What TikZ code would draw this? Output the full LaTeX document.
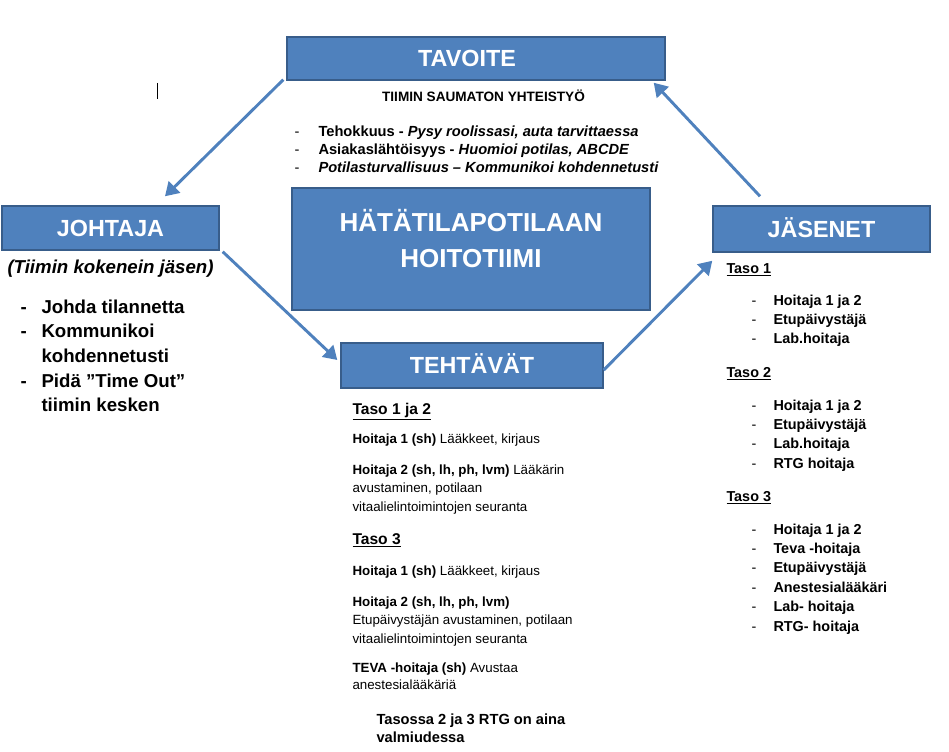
\documentclass[tikz,border=0pt]{standalone}
\usepackage{fontspec}
\setmainfont{Liberation Sans}
\usetikzlibrary{arrows.meta,calc}
\definecolor{boxblue}{RGB}{79,129,189}
\definecolor{boxedge}{RGB}{56,93,138}

\tikzset{every picture/.style={line width=0.75pt}}
\tikzset{
  blubox/.style={fill=boxblue, draw=boxedge, line width=1.1pt, text=white,
    font=\fontsize{17.5}{21}\selectfont\bfseries, text height=12.5pt, text depth=0pt},
  headtxt/.style={text=white, inner sep=0pt, font=\fontsize{17.5}{21}\selectfont\bfseries,
    text height=12.5pt, text depth=0pt},
  titletxt/.style={text=white, inner sep=0pt, font=\fontsize{19.5}{23}\selectfont\bfseries,
    text height=14pt, text depth=0pt},
  flowarrow/.style={draw=boxblue, line width=2.2pt, -{Triangle[length=10pt,width=12pt]}},
  txt/.style={anchor=base west, inner sep=0pt, align=left}
}

\begin{document}
\begin{tikzpicture}[x=0.75pt,y=0.75pt,yscale=-1,xscale=1]
	\useasboundingbox (0,0) rectangle (949,752);

	%Boxes
	\node[blubox, minimum width=283.5pt, minimum height=32.25pt] (tavoite) at (476,58.5) {};
	\node[headtxt] (tavoiteotsikko) at (467,58.5) {TAVOITE};
	\node[blubox, minimum width=162.75pt, minimum height=33pt] (johtaja) at (110.5,228) {JOHTAJA};
	\node[blubox, minimum width=268.5pt, minimum height=91.5pt] (hoitotiimi) at (471,249) {};
	\node[blubox, minimum width=196.5pt, minimum height=33.75pt] (tehtavat) at (472,365.5) {TEHTÄVÄT};
	\node[blubox, minimum width=162.75pt, minimum height=34.5pt] (jasenet) at (821.5,229) {JÄSENET};

	% Text Node
	\node[titletxt] (otsikko1) at (471,222) {HÄTÄTILAPOTILAAN};
	\node[titletxt] (otsikko2) at (471,258) {HOITOTIIMI};

	%Arrows
	\draw[flowarrow] ($(tavoite.south west)+(-3,-1)$) -- ($(johtaja.north)+(54.5,-9)$);
	\draw[flowarrow] ($(johtaja.south east)+(3,1)$) -- ($(tehtavat.west)+(-3,-5.5)$);
	\draw[flowarrow] ($(tehtavat.east)+(0,4.5)$) -- ($(jasenet.south west)+(0,8)$);
	\draw[flowarrow] ($(jasenet.north)+(-61.5,-9)$) -- ($(tavoite.south east)+(-12,2)$);

	%Stray mark
	\draw (157,83) -- (157,99);

	% Text Node: tavoite (multi-line nodes sit on their last baseline)
	\node[anchor=base, inner sep=0pt, font=\fontsize{10.2}{12}\selectfont\bfseries] (yhteistyo) at (483.5,102) {TIIMIN SAUMATON YHTEISTYÖ};
	\node[txt, font=\fontsize{11}{13.5}\selectfont] (tavviivat) at (294,173) {-\\-\\-};
	\node[txt, font=\fontsize{11}{13.5}\selectfont\bfseries] (tavlista) at (318,173)
	  {Tehokkuus - \textit{Pysy roolissasi, auta tarvittaessa}\\
	   Asiakaslähtöisyys - \textit{Huomioi potilas, ABCDE}\\
	   \textit{Potilasturvallisuus – Kommunikoi kohdennetusti}};

	% Text Node: johtaja
	\node[txt, font=\fontsize{14}{17}\selectfont\bfseries\itshape] (kokenein) at (7,273) {(Tiimin kokenein jäsen)};
	\node[txt, font=\fontsize{14}{18.5}\selectfont\bfseries] (johviivat) at (20,387) {-\\-\\ \\-};
	\node[txt, font=\fontsize{14}{18.5}\selectfont\bfseries] (johlista) at (41,411.7)
	  {Johda tilannetta\\Kommunikoi\\kohdennetusti\\Pidä ”Time Out”\\tiimin kesken};

	% Text Node: tehtavat
	\node[txt, font=\fontsize{11.7}{14}\selectfont\bfseries] (tehtaso12) at (352,414) {\underline{Taso 1 ja 2}};
	\node[txt, font=\fontsize{10}{13.9}\selectfont] (teh1) at (352,443) {\textbf{Hoitaja 1 (sh)} Lääkkeet, kirjaus};
	\node[txt, font=\fontsize{10}{13.9}\selectfont] (teh2) at (352,511.1)
	  {\textbf{Hoitaja 2 (sh, lh, ph, lvm)} Lääkärin\\avustaminen, potilaan\\vitaalielintoimintojen seuranta};
	\node[txt, font=\fontsize{11.7}{14}\selectfont\bfseries] (tehtaso3) at (352,544) {\underline{Taso 3}};
	\node[txt, font=\fontsize{10}{13.9}\selectfont] (teh3) at (352,575) {\textbf{Hoitaja 1 (sh)} Lääkkeet, kirjaus};
	\node[txt, font=\fontsize{10}{13.9}\selectfont] (teh4) at (352,643.1)
	  {\textbf{Hoitaja 2 (sh, lh, ph, lvm)}\\Etupäivystäjän avustaminen, potilaan\\vitaalielintoimintojen seuranta};
	\node[txt, font=\fontsize{10}{13}\selectfont] (teh5) at (352,689.5)
	  {\textbf{TEVA -hoitaja (sh)} Avustaa\\anestesialääkäriä};
	\node[txt, font=\fontsize{11}{13.5}\selectfont\bfseries] (rtg) at (376,742) {Tasossa 2 ja 3 RTG on aina\\valmiudessa};

	% Text Node: jasenet
	\node[txt, font=\fontsize{10.8}{13}\selectfont\bfseries] (jastaso1) at (726,273) {\underline{Taso 1}};
	\node[txt, font=\fontsize{10.8}{14.55}\selectfont] (jasviivat1) at (751,343.8) {-\\-\\-};
	\node[txt, font=\fontsize{10.8}{14.55}\selectfont\bfseries] (jaslista1) at (773,343.8)
	  {Hoitaja 1 ja 2\\Etupäivystäjä\\Lab.hoitaja};
	\node[txt, font=\fontsize{10.8}{13}\selectfont\bfseries] (jastaso2) at (726,377) {\underline{Taso 2}};
	\node[txt, font=\fontsize{10.8}{14.55}\selectfont] (jasviivat2) at (751,468.2) {-\\-\\-\\-};
	\node[txt, font=\fontsize{10.8}{14.55}\selectfont\bfseries] (jaslista2) at (773,468.2)
	  {Hoitaja 1 ja 2\\Etupäivystäjä\\Lab.hoitaja\\RTG hoitaja};
	\node[txt, font=\fontsize{10.8}{13}\selectfont\bfseries] (jastaso3) at (726,501) {\underline{Taso 3}};
	\node[txt, font=\fontsize{10.8}{14.55}\selectfont] (jasviivat3) at (751,631) {-\\-\\-\\-\\-\\-};
	\node[txt, font=\fontsize{10.8}{14.55}\selectfont\bfseries] (jaslista3) at (773,631)
	  {Hoitaja 1 ja 2\\Teva -hoitaja\\Etupäivystäjä\\Anestesialääkäri\\Lab- hoitaja\\RTG- hoitaja};

\end{tikzpicture}
\end{document}
